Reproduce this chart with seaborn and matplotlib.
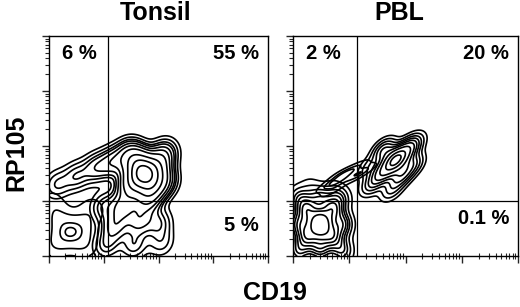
import numpy as np
import pandas as pd
import matplotlib
matplotlib.use("Agg")
import matplotlib.pyplot as plt
import matplotlib.ticker as mticker
import seaborn as sns

# ---- data (log10 fluorescence, relative event weights) ----
# Tonsil, CD19+ RP105+ population with its tails
tonsil_hi_cd19 = [1.72, 1.60, 1.88, 1.95, 1.50, 1.80, 2.10, 2.10, 1.45, 1.15, 0.85, 0.50, 0.15,
                  1.35, 1.20, 1.65, 2.00, 1.05, 1.55, 2.05, 1.00]
tonsil_hi_rp105 = [1.50, 1.70, 1.30, 1.60, 1.30, 1.05, 1.85, 1.35, 1.85, 1.70, 1.60, 1.45, 1.30,
                   0.90, 0.55, 0.65, 0.60, 0.20, 0.20, 0.25, 0.90]
tonsil_hi_w = [10, 5, 5, 4, 4, 3, 2, 2, 2.5, 2, 1.5, 1.2, 1.0,
               2.5, 2, 2, 1.2, 1.2, 1.2, 0.8, 1.2]
# Tonsil, double-negative blob
tonsil_lo_cd19 = [0.35, 0.10, 0.60, 0.15, 0.65, 0.80, 0.05]
tonsil_lo_rp105 = [0.42, 0.20, 0.55, 0.70, 0.20, 0.85, 1.00]
tonsil_lo_w = [2.5, 1.2, 1.5, 1.2, 1.2, 1.0, 0.8]

# PBL, CD19- lymphocytes
pbl_lo_cd19 = [0.48, 0.25, 0.70, 0.25, 0.70, 0.48, 0.48, 0.10, 0.88, 0.10, 0.88, 0.10, 0.85, 0.30, 0.70]
pbl_lo_rp105 = [0.58, 0.35, 0.35, 0.85, 0.85, 0.15, 1.05, 0.58, 0.58, 0.10, 0.10, 1.05, 1.05, 1.25, 1.20]
pbl_lo_w = [12, 5, 5, 5, 5, 4, 3, 4, 4, 3, 3, 2.5, 2.5, 1, 1]
# PBL, B cells
pbl_hi_cd19 = [1.82, 1.60, 2.02, 1.92, 1.62, 2.12, 1.40, 1.75, 1.35, 2.15]
pbl_hi_rp105 = [1.74, 1.52, 1.92, 1.46, 1.92, 1.66, 1.30, 1.20, 1.60, 2.05]
pbl_hi_w = [8, 3, 2.5, 2, 2, 1.5, 1.2, 1, 0.8, 1]
# PBL, bridge between the two populations
pbl_br_cd19 = [1.25, 1.10, 0.95, 0.80, 0.65, 1.15, 0.85, 0.70]
pbl_br_rp105 = [1.55, 1.45, 1.50, 1.35, 1.30, 1.62, 1.48, 1.20]
pbl_br_w = [1, 1, 1, 1, 1, 0.8, 0.8, 0.8]

panels = ["Tonsil", "PBL"]
quad_labels = {"Tonsil": ["6 %", "55 %", "5 %"], "PBL": ["2 %", "20 %", "0.1 %"]}
gate_x = {"Tonsil": 12, "PBL": 14}
gate_y = 10

groups = {
    "Tonsil": [(tonsil_hi_cd19, tonsil_hi_rp105, tonsil_hi_w, 0.6,
                [0.02, 0.05, 0.1, 0.16, 0.24, 0.34, 0.46, 0.6, 0.75, 0.9]),
               (tonsil_lo_cd19, tonsil_lo_rp105, tonsil_lo_w, 0.9,
                [0.1, 0.4, 0.8, 0.95])],
    "PBL": [(pbl_lo_cd19, pbl_lo_rp105, pbl_lo_w, 0.7,
             [0.02, 0.05, 0.1, 0.17, 0.26, 0.38, 0.52, 0.68, 0.85]),
            (pbl_hi_cd19, pbl_hi_rp105, pbl_hi_w, 0.8,
             [0.03, 0.07, 0.13, 0.21, 0.31, 0.44, 0.6, 0.78, 0.92]),
            (pbl_br_cd19, pbl_br_rp105, pbl_br_w, 1.0, [0.1, 0.4, 0.75])],
}

sns.set_style("white")
plt.rcParams['font.family'] = ['Liberation Sans', 'DejaVu Sans']
plt.rcParams['text.color'] = 'black'

fig = plt.figure(figsize=(5.2, 3.07), dpi=100)
axes = [fig.add_axes([49/520, 1-256/307, 219/520, 220/307]),
        fig.add_axes([293/520, 1-256/307, 225/520, 220/307])]

for ax, name in zip(axes, panels):
    for cx, cy, w, bw, lv in groups[name]:
        df = pd.DataFrame({"CD19": 10**np.array(cx), "RP105": 10**np.array(cy), "w": w})
        sns.kdeplot(data=df, x="CD19", y="RP105", weights="w", log_scale=True,
                    levels=lv, color="black", linewidths=1.2, bw_adjust=bw,
                    gridsize=200, ax=ax, clip=((0, 4), (0, 4)))
    ax.set_xscale("log")
    ax.set_yscale("log")
    ax.set_xlim(1, 1e4)
    ax.set_ylim(1, 1e4)
    ax.axvline(gate_x[name], color="black", lw=0.9)
    ax.axhline(gate_y, color="black", lw=0.9)
    ax.set_xlabel("")
    ax.set_ylabel("")
    for s in ax.spines.values():
        s.set_color("black")
        s.set_linewidth(1.0)
    ax.xaxis.set_major_locator(mticker.LogLocator(base=10, numticks=10))
    ax.xaxis.set_minor_locator(mticker.LogLocator(base=10, subs=np.arange(2, 10), numticks=10))
    ax.yaxis.set_major_locator(mticker.LogLocator(base=10, numticks=10))
    ax.yaxis.set_minor_locator(mticker.LogLocator(base=10, subs=np.arange(2, 10), numticks=10))
    for axis in (ax.xaxis, ax.yaxis):
        axis.set_major_formatter(mticker.NullFormatter())
        axis.set_minor_formatter(mticker.NullFormatter())
    ax.tick_params(axis="x", which="major", direction="out", length=5, width=1, bottom=True)
    ax.tick_params(axis="x", which="minor", direction="inout", length=4, width=0.8, bottom=True)
    ax.tick_params(axis="y", which="major", direction="out", length=5, width=1, left=True)
    ax.tick_params(axis="y", which="minor", direction="out", length=3, width=0.8, left=True)
    ql = quad_labels[name]
    ax.text(0.06, 0.92, ql[0], transform=ax.transAxes, fontsize=14.5,
            fontweight="bold", ha="left", va="center")
    ax.text(0.96, 0.92, ql[1], transform=ax.transAxes, fontsize=14.5,
            fontweight="bold", ha="right", va="center")
    ax.text(0.96, 0.14 if name == "Tonsil" else 0.17, ql[2], transform=ax.transAxes,
            fontsize=14.5, fontweight="bold", ha="right", va="center")

fig.text(156/520, 1-13/307, "Tonsil", fontsize=18, fontweight="bold", ha="center", va="center")
fig.text(399/520, 1-13/307, "PBL", fontsize=18, fontweight="bold", ha="center", va="center")
fig.text(4/520, 1-153/307, "RP105", rotation=90, fontsize=18, fontweight="bold",
         ha="left", va="center")
fig.text(275/520, 1-293/307, "CD19", fontsize=18, fontweight="bold",
         ha="center", va="center")

fig.savefig("out.png", dpi=100, facecolor="white")
